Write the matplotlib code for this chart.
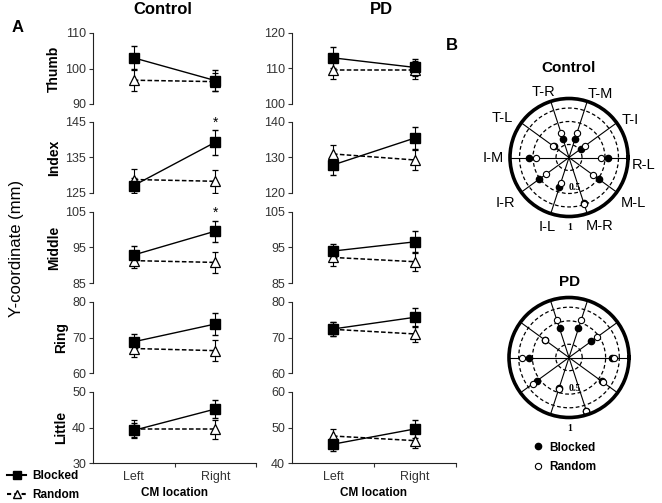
import numpy as np
import matplotlib
matplotlib.use('Agg')
import matplotlib.pyplot as plt
from matplotlib.lines import Line2D
from matplotlib.ticker import NullLocator, NullFormatter

plt.rcParams['font.family'] = ['Liberation Sans', 'DejaVu Sans']

# Dados - painel A
fingers = ['Thumb', 'Index', 'Middle', 'Ring', 'Little']
locations = ['Left', 'Right']

ctrl_blocked = [[103.0, 96.6], [127.1, 139.3], [92.9, 99.6], [68.8, 73.8], [39.2, 45.2]]
ctrl_blocked_err = [[3.2, 3.0], [2.0, 3.5], [2.5, 3.0], [2.2, 3.0], [2.0, 2.5]]
ctrl_random = [[96.7, 96.3], [128.8, 128.3], [91.3, 90.8], [66.9, 66.3], [39.5, 39.5]]
ctrl_random_err = [[2.9, 2.5], [3.0, 3.3], [2.2, 3.0], [2.4, 3.0], [2.5, 2.7]]
ctrl_ylims = [(90, 110), (125, 145), (85, 105), (60, 80), (30, 50)]

pd_blocked = [[113.0, 110.3], [127.9, 135.5], [94.0, 96.6], [72.4, 75.7], [45.3, 49.6]]
pd_blocked_err = [[3.0, 2.5], [2.9, 3.0], [2.0, 3.0], [2.0, 2.7], [2.0, 2.6]]
pd_random = [[109.5, 109.5], [131.0, 129.3], [92.2, 91.0], [72.3, 71.0], [47.6, 46.3]]
pd_random_err = [[2.5, 2.5], [2.5, 2.8], [2.4, 2.5], [2.0, 2.3], [2.0, 2.2]]
pd_ylims = [(100, 120), (120, 140), (85, 105), (60, 80), (40, 60)]

# Dados - painel B (polar)
spoke_labels = ['R-L', 'T-I', 'T-M', 'T-R', 'T-L', 'I-M', 'I-R', 'I-L', 'M-R', 'M-L']
spoke_angles = np.arange(0, 360, 36)
ctrl_polar_blocked = [0.55, 0.26, 0.30, 0.30, 0.30, 0.56, 0.52, 0.43, 0.72, 0.51]
ctrl_polar_random = [0.44, 0.31, 0.37, 0.37, 0.31, 0.46, 0.40, 0.38, 0.73, 0.42]
pd_polar_blocked = [0.61, 0.38, 0.42, 0.42, 0.40, 0.56, 0.54, 0.44, 0.89, 0.56]
pd_polar_random = [0.64, 0.47, 0.55, 0.55, 0.41, 0.69, 0.63, 0.45, 0.90, 0.59]

fig = plt.figure(figsize=(6.62, 5.03), dpi=100)
W, H = 662.0, 503.0

def px_axes(x0, y0, x1, y1, **kw):
    return fig.add_axes([x0 / W, 1 - y1 / H, (x1 - x0) / W, (y1 - y0) / H], **kw)

tops = [33, 122, 212, 302, 392]
xpos = [0.5, 1.5]
tick_col = '#333333'

def draw_panel(ax, blk, blk_e, rnd, rnd_e, ylim, last):
    ax.errorbar(xpos, rnd, yerr=rnd_e, color='k', ls='--', lw=1.1, marker='^',
                ms=7.5, mfc='white', mec='k', mew=0.9, capsize=2, elinewidth=0.8, dashes=(3, 1.5))
    ax.errorbar(xpos, blk, yerr=blk_e, color='k', ls='-', lw=1.0, marker='s',
                ms=6.5, mfc='k', mec='k', capsize=2, elinewidth=0.8)
    ax.set_xlim(0, 2)
    ax.set_ylim(*ylim)
    ax.set_yticks([ylim[0], (ylim[0] + ylim[1]) / 2, ylim[1]])
    ax.tick_params(axis='y', labelsize=9, colors=tick_col, length=3, width=0.8, pad=2)
    for s in ['top', 'right']:
        ax.spines[s].set_visible(False)
    ax.spines['left'].set_linewidth(0.8)
    ax.spines['left'].set_color('#222222')
    if last:
        ax.spines['bottom'].set_linewidth(0.8)
        ax.spines['bottom'].set_color('#222222')
        ax.set_xticks([1, 2])
        ax.set_xticklabels(['', ''])
        ax.set_xticks(xpos, minor=True)
        ax.set_xticklabels(locations, minor=True)
        ax.tick_params(axis='x', which='major', length=3, width=0.8, color=tick_col)
        ax.tick_params(axis='x', which='minor', length=0, labelsize=9,
                       colors=tick_col, pad=6)
        ax.set_xlabel('CM location', fontsize=8.5, fontweight='bold', labelpad=3)
    else:
        ax.spines['bottom'].set_visible(False)
        ax.set_xticks([])

for i, f in enumerate(fingers):
    last = i == len(fingers) - 1
    axc = px_axes(93, tops[i], 256, tops[i] + 71)
    draw_panel(axc, ctrl_blocked[i], ctrl_blocked_err[i], ctrl_random[i],
               ctrl_random_err[i], ctrl_ylims[i], last)
    axc.set_ylabel(f, fontsize=10, fontweight='bold', labelpad=3)
    axp = px_axes(292, tops[i], 456, tops[i] + 71)
    draw_panel(axp, pd_blocked[i], pd_blocked_err[i], pd_random[i],
               pd_random_err[i], pd_ylims[i], last)
    if f in ('Index', 'Middle'):
        axc.text(1.5, ctrl_ylims[i][1] - 0.3, '*', ha='center', va='center',
                 fontsize=10, clip_on=False)

fig.text(163 / W, 1 - 10 / H, 'Control', fontsize=12, fontweight='bold', ha='center', va='center')
fig.text(381 / W, 1 - 10 / H, 'PD', fontsize=12, fontweight='bold', ha='center', va='center')
fig.text(17 / W, 1 - 248 / H, 'Y-coordinate (mm)', rotation=90, ha='center',
         va='center', fontsize=12)
fig.text(18 / W, 1 - 27 / H, 'A', fontsize=12, fontweight='bold', ha='center', va='center')
fig.text(452 / W, 1 - 45 / H, 'B', fontsize=12, fontweight='bold', ha='center', va='center')

handles = [Line2D([], [], color='k', ls='-', marker='s', ms=6, mfc='k'),
           Line2D([], [], color='k', ls='--', marker='^', ms=6, mfc='white', dashes=(2, 1.5))]
fig.legend(handles, ['Blocked', 'Random'], loc='lower left', bbox_to_anchor=(-0.005, -0.018),
           frameon=False, handlelength=1.6, handletextpad=0.5, labelspacing=0.6,
           prop={'size': 8.5, 'weight': 'bold'})

# Painel B - gráficos polares
label_pos = {'T-R': (111.6, 1.41), 'T-M': (63.6, 1.41), 'T-I': (31.6, 1.45),
             'R-L': (-5.8, 1.6), 'M-L': (-35.4, 1.8), 'M-R': (-66, 1.6),
             'I-L': (-107.6, 1.5), 'I-R': (-144.6, 1.8), 'I-M': (180, 1.68),
             'T-L': (149.5, 1.75)}

def draw_polar(ax, blk, rnd, show_labels):
    th = np.deg2rad(spoke_angles)
    ax.set_rscale('log')
    ax.set_rlim(0.169, 1.0)
    ax.set_rgrids([0.25, 0.5, 0.75], labels=['', '', ''])
    ax.yaxis.set_minor_locator(NullLocator())
    ax.yaxis.set_minor_formatter(NullFormatter())
    ax.set_thetagrids(spoke_angles, labels=[''] * len(spoke_angles))
    ax.xaxis.grid(True, color='k', ls='-', lw=0.8)
    ax.yaxis.grid(True, color='k', ls=(0, (3, 2)), lw=0.9)
    ax.spines['polar'].set_linewidth(2.6)
    ax.plot(th, blk, 'o', ms=4.5, mfc='k', mec='k', ls='none')
    ax.plot(th, rnd, 'o', ms=4.5, mfc='white', mec='k', mew=0.8, ls='none')
    if show_labels:
        for lab in spoke_labels:
            ang, r = label_pos[lab]
            ax.text(np.deg2rad(ang), r, lab, ha='center', va='center', fontsize=10.5,
                    clip_on=False)
    ax.text(0.551, 0.242, '0.5', transform=ax.transAxes, ha='center', va='center',
            fontsize=7, fontweight='bold', family='Liberation Serif')
    ax.text(0.508, -0.09, '1', transform=ax.transAxes, ha='center', va='center',
            fontsize=7, fontweight='bold', family='Liberation Serif')

axb1 = px_axes(510, 98.5, 628, 216.5, projection='polar')
draw_polar(axb1, ctrl_polar_blocked, ctrl_polar_random, True)
axb2 = px_axes(509, 297.5, 629, 417.5, projection='polar')
draw_polar(axb2, pd_polar_blocked, pd_polar_random, False)
fig.text(569 / W, 1 - 68 / H, 'Control', fontsize=11, fontweight='bold', ha='center', va='center')
fig.text(570 / W, 1 - 282 / H, 'PD', fontsize=11, fontweight='bold', ha='center', va='center')

ph = [Line2D([], [], ls='none', marker='o', ms=4.5, mfc='k', mec='k'),
      Line2D([], [], ls='none', marker='o', ms=4.5, mfc='white', mec='k', mew=0.8)]
fig.legend(ph, ['Blocked', 'Random'], loc='upper left', bbox_to_anchor=(521 / W, 1 - 431 / H),
           frameon=False, handlelength=1.0, handletextpad=0.5, labelspacing=0.6,
           prop={'size': 8.5, 'weight': 'bold'})

plt.savefig('out.png', dpi=100)
